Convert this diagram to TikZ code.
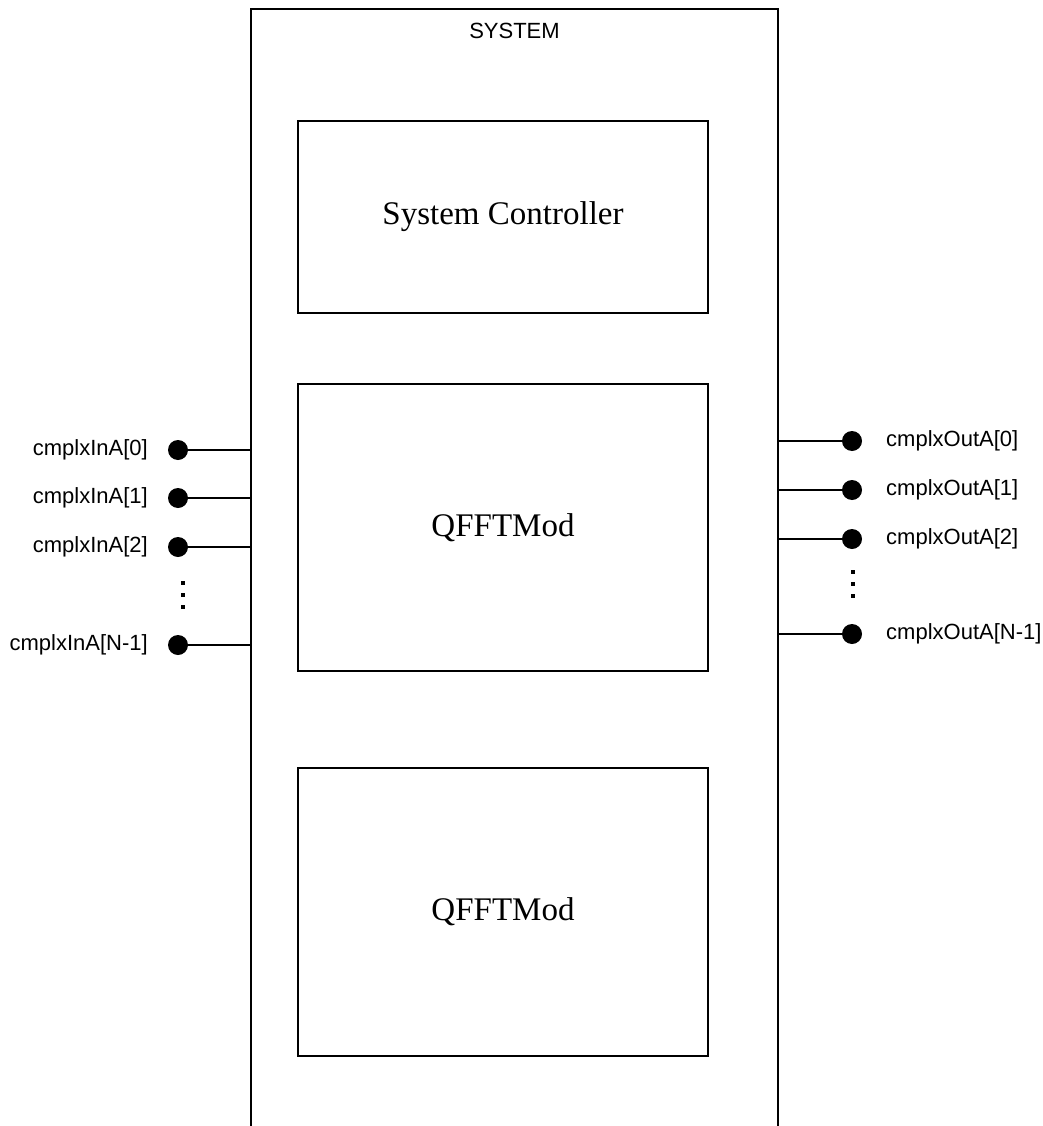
\documentclass[tikz,border=0pt]{standalone}
\usepackage{fontspec}
\setmainfont{Liberation Serif}
\newfontfamily\labelfont{Liberation Sans}
\begin{document}
\begin{tikzpicture}[x=1pt,y=-1pt,
  block/.style={draw,line width=1.6pt,minimum width=410pt,inner sep=0pt,font=\fontsize{33}{36}\selectfont},
  pin/.style={circle,fill,inner sep=0pt,minimum size=20pt},
  wire/.style={line width=1.4pt},
  lbl/.style={font=\labelfont\fontsize{22}{25}\selectfont,inner sep=0pt},
  dotmark/.style={fill,minimum size=3.5pt,inner sep=0pt}]
\useasboundingbox (0,0) rectangle (1042,1126);
% enclosing system frame, open at the bottom
\coordinate (sysNW) at (251,9);
\coordinate (sysNE) at (778,9);
\coordinate (sysSW) at (251,1126);
\coordinate (sysSE) at (778,1126);
\draw[line width=1.8pt] (sysSW) -- (sysNW) -- (sysNE) -- (sysSE);
\node[lbl] (systitle) at (514.5,31) {SYSTEM};
% inner blocks
\node[block,minimum height=192pt] (ctrl) at (503,217) {System Controller};
\node[block,minimum height=287pt] (qfft1) at (503,527.5) {QFFTMod};
\node[block,minimum height=288pt] (qfft2) at (503,912) {QFFTMod};
% input pins
\foreach \i/\y/\t in {0/450/{cmplxInA[0]},1/498/{cmplxInA[1]},2/547/{cmplxInA[2]},3/645/{cmplxInA[N-1]}}{
  \node[pin] (in\i) at (178,\y) {};
  \draw[wire] (in\i) -- (sysNW |- in\i);
  \node[lbl,anchor=east] (inlbl\i) at (148,\y) {\t};
}
% output pins
\foreach \i/\y/\t in {0/441/{cmplxOutA[0]},1/490/{cmplxOutA[1]},2/539/{cmplxOutA[2]},3/634/{cmplxOutA[N-1]}}{
  \node[pin] (out\i) at (852,\y) {};
  \draw[wire] (sysNE |- out\i) -- (out\i);
  \node[lbl,anchor=west] (outlbl\i) at (886,\y) {\t};
}
% ellipsis marks between pins
\foreach \y in {583,595,607}{\node[dotmark] at (183,\y) {};}
\foreach \y in {572,584,596}{\node[dotmark] at (853,\y) {};}
\end{tikzpicture}
\end{document}
